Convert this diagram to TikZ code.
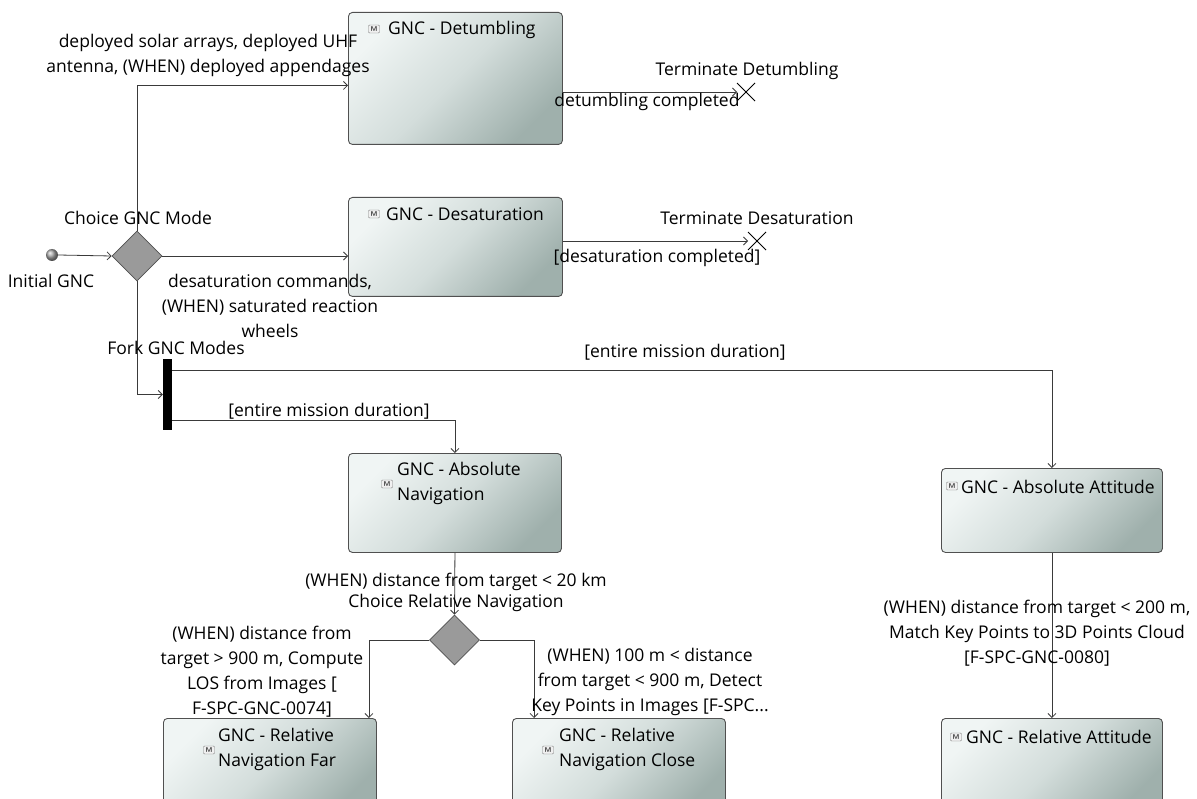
\documentclass[tikz,border=0pt]{standalone}
\usepackage{fontspec}
\setmainfont{Open Sans}
\usetikzlibrary{arrows.meta,shapes.geometric,shapes.misc,calc}
\definecolor{boxlight}{HTML}{F0F5F4}
\definecolor{boxmid}{HTML}{D3DDDB}
\definecolor{boxdark}{HTML}{9FB0AC}
\definecolor{edgegray}{HTML}{505050}
\definecolor{diagray}{HTML}{9A9A9A}
\definecolor{linegray}{HTML}{3A3A3A}

\begin{document}
\begin{tikzpicture}[x=1pt,y=-1pt,
  font=\fontsize{17.5}{25}\selectfont,
  action/.style={draw=edgegray, line width=0.9pt, rounded corners=4pt,
    anchor=north west, inner sep=0pt,
    top color=boxlight, bottom color=boxdark, middle color=boxmid, shading angle=45},
  title/.style={anchor=west, align=left, inner sep=0pt},
  micon/.style={draw=gray, fill=gray!12, rounded corners=1pt, inner sep=0pt,
    font=\sffamily\bfseries\fontsize{7}{7}\selectfont, text=black!75,
    minimum width=11pt, minimum height=8pt},
  decision/.style={diamond, draw=edgegray, line width=0.8pt, fill=diagray,
    minimum width=50pt, minimum height=50pt, inner sep=0pt},
  forkbar/.style={fill=black, minimum width=9pt, minimum height=71pt, inner sep=0pt},
  final/.style={cross out, draw=black, line width=1pt, minimum size=17pt, inner sep=0pt},
  initial/.style={circle, minimum size=12pt, inner sep=0pt, ball color=gray!70},
  lbl/.style={align=center, inner sep=0pt},
  conn/.style={draw=linegray, line width=0.8pt, -{Straight Barb[length=4pt,width=8pt]}}
]
\clip (0,0) rectangle (1197,799);
\useasboundingbox (0,0) rectangle (1197,799);
\fill[white] (0,0) rectangle (1197,799);

% actions
\node[action, minimum width=214pt, minimum height=132pt] (det) at (348,12) {};
\node[action, minimum width=214pt, minimum height=99pt] (des) at (348,197) {};
\node[action, minimum width=213pt, minimum height=99pt] (nav) at (348,453) {};
\node[action, minimum width=221pt, minimum height=84pt] (att) at (941,468) {};
\node[action, minimum width=213pt, minimum height=95pt] (far) at (163,718) {};
\node[action, minimum width=213pt, minimum height=95pt] (close) at (512,718) {};
\node[action, minimum width=221pt, minimum height=95pt] (ratt) at (941,718) {};

% action titles with model icons
\node[micon] (mdet) at (374,29) {M};
\node[title] (tdet) at (388,30) {GNC - Detumbling};
\node[micon] (mdes) at (374,214) {M};
\node[title] (tdes) at (386,214) {GNC - Desaturation};
\node[micon] (mnav) at (387,484) {M};
\node[title] (tnav) at (397,483) {GNC - Absolute\\Navigation};
\node[micon] (matt) at (952,486) {M};
\node[title] (tatt) at (961,487) {GNC - Absolute Attitude};
\node[micon] (mfar) at (209,750) {M};
\node[title] (tfar) at (218,749) {GNC - Relative\\Navigation Far};
\node[micon] (mclose) at (548,750) {M};
\node[title] (tclose) at (559,749) {GNC - Relative\\Navigation Close};
\node[micon] (mratt) at (956,737) {M};
\node[title] (tratt) at (966,737) {GNC - Relative Attitude};

% control nodes
\node[initial] (init) at (52,255) {};
\node[decision] (c1) at (137,256) {};
\node[forkbar] (fork) at (167.5,394.5) {};
\node[decision] (c2) at (454.5,640) {};
\node[final] (t1) at (746,92) {};
\node[final] (t2) at (757,241) {};

% flows
\draw[conn] (init.east) -- (c1.west);
\draw[conn] (c1.north) |- ($(det.west)+(0,7)$);
\draw[conn] (c1.east) -- (c1.east -| des.west);
\draw[conn] (c1.south) |- (fork.west);
\draw[conn] ($(fork.east)+(0,-24.5)$) -| (att.north);
\draw[conn] ($(fork.east)+(0,25.5)$) -| (nav.north);
\draw[conn] (nav.south) -- (c2.north);
\draw[conn] (c2.west) -| ($(far.north east)+(-8,0)$);
\draw[conn] (c2.east) -| ($(close.north west)+(22,0)$);
\draw[conn] (att.south) -- (ratt.north);
\draw[conn] (det.east |- t1) -- (t1.west);
\draw[conn] (des.east |- t2) -- (t2.west);

% node names
\node[lbl] (nc1) at (138,218) {Choice GNC Mode};
\node[lbl] (ninit) at (51,281) {Initial GNC};
\node[lbl] (nfork) at (176,348) {Fork GNC Modes};
\node[lbl] (nc2) at (456,603) {Choice Relative Navigation};
\node[lbl] (nt1) at (747,71) {Terminate Detumbling};
\node[lbl] (nt2) at (757,218) {Terminate Desaturation};

% guards
\node[lbl] (g1) at (208,55) {deployed solar arrays, deployed UHF\\antenna, (WHEN) deployed appendages};
\node[lbl] (g2) at (270,306) {desaturation commands,\\(WHEN) saturated reaction\\wheels};
\node[lbl] (g3) at (647,102) {detumbling completed};
\node[lbl] (g4) at (657,258) {[desaturation completed]};
\node[lbl] (g5) at (685,352) {[entire mission duration]};
\node[lbl] (g6) at (329,411) {[entire mission duration]};
\node[lbl] (g7) at (456,582) {(WHEN) distance from target < 20 km};
\node[lbl] (g8) at (262,671.5) {(WHEN) distance from\\target > 900 m, Compute\\LOS from Images [\\F-SPC-GNC-0074]};
\node[lbl] (g9) at (650,682) {(WHEN) 100 m < distance\\from target < 900 m, Detect\\Key Points in Images [F-SPC...};
\node[lbl] (g10) at (1037,633) {(WHEN) distance from target < 200 m,\\Match Key Points to 3D Points Cloud\\\relax[F-SPC-GNC-0080]};
\end{tikzpicture}
\end{document}
